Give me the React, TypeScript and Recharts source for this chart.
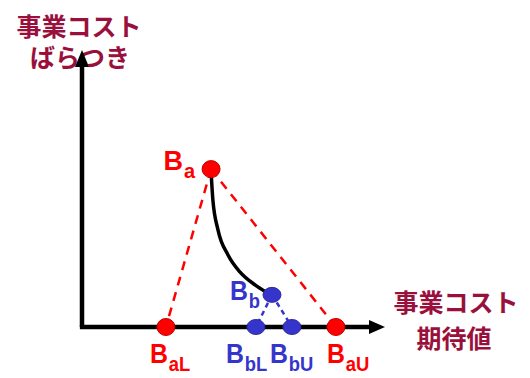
import React from "react";
import {
  ComposedChart,
  XAxis,
  YAxis,
  Scatter,
  Line,
  ReferenceLine,
  Customized,
} from "recharts";

const RED = "#ff0000";
const BLUE = "#3535cc";
const TITLE = "#99103c";

// points: x = expected cost, y = spread
const pointNames = ["B", "B", "B", "B", "B", "B"];
const pointSubs = ["a", "aL", "aU", "b", "bL", "bU"];
const pointX = [42.6, 27.7, 83.8, 62.7, 57.4, 69.3];
const pointY = [57.0, 0, 0, 11.6, 0, 0];
const pointColors = [RED, RED, RED, BLUE, BLUE, BLUE];

// trade-off curve from Ba down to Bb
const curveX = [42.6, 43.2, 44.9, 48.2, 52.1, 57.1, 60.7];
const curveY = [56.0, 45.8, 35.0, 26.0, 19.9, 15.2, 12.6];

const xTitle = ["事業コスト", "期待値"];
const yTitle = ["事業コスト", "ばらつき"];

const points = pointX.map((x, i) => ({
  x,
  y: pointY[i],
  name: pointNames[i],
  sub: pointSubs[i],
  color: pointColors[i],
}));
const curve = curveX.map((x, i) => ({ x, y: curveY[i] }));
const arrows = [
  { x: 100, y: 0, dir: "right" },
  { x: 0, y: 100, dir: "up" },
];

// label placement relative to each point: dx, dy, anchor, x-squash
const labelOffset: Record<string, [number, number, "start" | "end", number]> = {
  a: [-16, 1, "end", 1],
  b: [-12, 5, "end", 0.92],
  aL: [-16, 36, "start", 0.92],
  aU: [-9, 36, "start", 0.92],
  bL: [-30, 36, "start", 0.92],
  bU: [-22, 36, "start", 0.92],
};

const PointShape = (props: any) => {
  const { cx, cy, payload } = props;
  const [dx, dy, anchor, sx] = labelOffset[payload.sub];
  const blue = payload.color === BLUE;
  return (
    <g>
      <ellipse cx={cx} cy={cy} rx={9} ry={blue ? 7.5 : 8.5} fill={payload.color} stroke={blue ? "#2a2aa0" : "#c00000"} strokeWidth={1} />
      <text
        transform={`translate(${cx + dx},${cy + dy}) scale(${sx},1)`}
        x={0}
        y={0}
        textAnchor={anchor}
        fill={payload.color}
        fontFamily="Arial, Liberation Sans, sans-serif"
        fontWeight="bold"
        fontSize={27}
      >
        {payload.name}
        <tspan fontSize={20} dy={8} dx={1}>
          {payload.sub}
        </tspan>
      </text>
    </g>
  );
};

const ArrowShape = (props: any) => {
  const { cx, cy, payload } = props;
  if (payload.dir === "right") {
    return <polygon points={`${cx},${cy} ${cx - 16},${cy - 7} ${cx - 16},${cy + 7}`} fill="#000" />;
  }
  return <polygon points={`${cx},${cy} ${cx - 7},${cy + 17} ${cx + 7},${cy + 17}`} fill="#000" />;
};

const Titles = () => (
  <g fontFamily="Noto Sans CJK JP" fontSize={25} fill={TITLE} fontWeight={700}>
    <text x={79} y={36} textAnchor="middle">{yTitle[0]}</text>
    <text x={80} y={67} textAnchor="middle">{yTitle[1]}</text>
    <text x={456} y={312} textAnchor="middle">{xTitle[0]}</text>
    <text x={454} y={348} textAnchor="middle">{xTitle[1]}</text>
  </g>
);

export default function App() {
  return (
    <div style={{ position: "absolute", left: 0, top: 0, background: "#fff" }}>
      <ComposedChart
        width={530}
        height={378}
        margin={{ top: 50, right: 145, bottom: 51, left: 82 }}
      >
        <XAxis type="number" dataKey="x" domain={[0, 100]} hide />
        <YAxis type="number" dataKey="y" domain={[0, 100]} hide />
        <ReferenceLine ifOverflow="visible" segment={[{ x: -0.7, y: 0 }, { x: 96, y: 0 }]} stroke="#000" strokeWidth={4.5} />
        <ReferenceLine ifOverflow="visible" segment={[{ x: 0, y: 0 }, { x: 0, y: 96 }]} stroke="#000" strokeWidth={4.5} />
        <ReferenceLine segment={[{ x: pointX[0], y: pointY[0] }, { x: pointX[1], y: 0 }]} stroke={RED} strokeWidth={2.5} strokeDasharray="9 7" />
        <ReferenceLine segment={[{ x: pointX[0], y: pointY[0] }, { x: pointX[2], y: 0 }]} stroke={RED} strokeWidth={2.5} strokeDasharray="9 7" />
        <ReferenceLine segment={[{ x: pointX[3], y: pointY[3] }, { x: pointX[4], y: 0 }]} stroke={BLUE} strokeWidth={2.5} strokeDasharray="5 4" />
        <ReferenceLine segment={[{ x: pointX[3], y: pointY[3] }, { x: pointX[5], y: 0 }]} stroke={BLUE} strokeWidth={2.5} strokeDasharray="5 4" />
        <Line
          data={curve}
          dataKey="y"
          type="monotone"
          stroke="#000"
          strokeWidth={3.5}
          dot={false}
          isAnimationActive={false}
        />
        <Scatter data={arrows} shape={ArrowShape} isAnimationActive={false} />
        <Scatter data={points} shape={PointShape} isAnimationActive={false} />
        <Customized component={Titles} />
      </ComposedChart>
    </div>
  );
}
